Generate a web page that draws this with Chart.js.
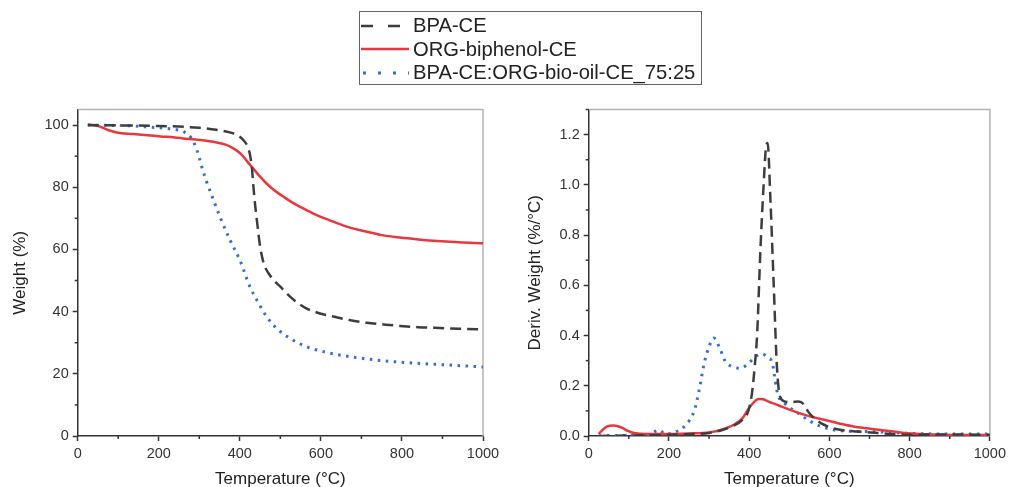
<!DOCTYPE html>
<html>
<head>
<meta charset="utf-8">
<script src="https://cdn.jsdelivr.net/npm/chart.js@4/dist/chart.umd.min.js"></script>
<style>
  html, body { margin: 0; padding: 0; background: #fff; }
  body { width: 1010px; height: 487px; position: relative; overflow: hidden; font-family: "Liberation Sans", Arial, sans-serif; }
  .panel { position: absolute; top: 95px; width: 505px; height: 392px; }
  #legend {
    position: absolute; left: 359px; top: 11px; width: 341px; height: 72px;
    border: 1px solid #666; background: #fff;
  }
  .item { position: absolute; left: 0; height: 24px; display: flex; align-items: center; }
  .item canvas { margin-left: 1px; }
  .item span { margin-left: 4px; font-size: 20.2px; color: #222; white-space: nowrap; }
</style>
</head>
<body>
<div id="legend"></div>
<div class="panel" style="left:0"><canvas id="tgaChart" width="505" height="392"></canvas></div>
<div class="panel" style="left:505px"><canvas id="dtgChart" width="505" height="392"></canvas></div>
<script>
// series names
const seriesNames = ['BPA-CE', 'ORG-biphenol-CE', 'BPA-CE:ORG-bio-oil-CE_75:25'];

// TGA: weight (%) vs temperature (°C)
const bpaTgaTemp = [25, 100, 200, 250, 300, 335, 360, 384, 400, 413, 420, 425, 430, 433, 438, 442, 446, 450, 456, 462, 470, 483, 500, 524, 545, 565, 598, 631, 670, 713, 760, 795, 840, 877, 940, 1000];
const bpaTgaWeight = [100, 99.9, 99.7, 99.5, 99.1, 98.6, 98.1, 97.3, 96.2, 94.5, 92.8, 90.5, 86, 81, 74, 69.5, 65, 61, 57, 54.4, 52.5, 50.2, 48, 44.8, 42.6, 41, 39.4, 38.4, 37.3, 36.4, 35.8, 35.4, 35.0, 34.8, 34.5, 34.3];

const orgTgaTemp = [25, 40, 55, 75, 96, 137, 180, 220, 260, 302, 343, 365, 384, 400, 409, 420, 433, 450, 466, 485, 507, 528, 549, 570, 590, 631, 670, 713, 750, 795, 840, 877, 940, 1000];
const orgTgaWeight = [100, 99.9, 99.5, 98.4, 97.6, 97.1, 96.6, 96.2, 95.7, 95.2, 94.4, 93.7, 92.5, 91, 89.8, 88, 86, 83.4, 81.2, 79, 77, 75.2, 73.7, 72.3, 71, 68.9, 67.1, 65.7, 64.6, 63.8, 63.2, 62.8, 62.3, 62];

const blendTgaTemp = [25, 80, 137, 180, 220, 245, 261, 272, 281, 288, 294, 300, 306, 318, 335, 351, 376, 400, 425, 442, 466, 491, 524, 565, 614, 672, 754, 836, 919, 1000];
const blendTgaWeight = [100, 99.9, 99.7, 99.3, 98.9, 98.5, 97.9, 97, 95.7, 94, 92, 89.5, 86.6, 81.8, 75.9, 70.5, 63, 56.6, 48, 43.7, 38.4, 34.6, 31.4, 28.7, 26.9, 25.5, 24.2, 23.4, 22.8, 22.2];

// DTG: derivative weight (%/°C) vs temperature (°C)
const bpaDtgTemp = [25, 100, 200, 260, 300, 333, 360, 383, 398, 407, 414, 420, 428, 436, 442, 446, 453, 461, 469, 477, 490, 505, 523, 537, 547, 563, 580, 605, 630, 670, 712, 795, 880, 1000];
const bpaDtgDeriv = [0.0, 0.002, 0.005, 0.008, 0.012, 0.024, 0.04, 0.064, 0.1, 0.17, 0.28, 0.41, 0.74, 1.0, 1.15, 1.167, 0.94, 0.61, 0.28, 0.157, 0.137, 0.135, 0.137, 0.125, 0.097, 0.07, 0.05, 0.033, 0.024, 0.018, 0.013, 0.005, 0.006, 0.005];

const orgDtgTemp = [25, 35, 45, 61, 75, 86, 98, 110, 130, 152, 200, 250, 300, 341, 365, 383, 399, 412, 424, 435, 448, 465, 481, 514, 547, 597, 630, 663, 712, 760, 795, 877, 1000];
const orgDtgDeriv = [0.008, 0.025, 0.037, 0.042, 0.038, 0.03, 0.02, 0.013, 0.009, 0.008, 0.008, 0.01, 0.014, 0.03, 0.048, 0.07, 0.11, 0.135, 0.147, 0.146, 0.137, 0.127, 0.117, 0.097, 0.08, 0.061, 0.048, 0.037, 0.027, 0.018, 0.011, 0.005, 0.004];

const blendDtgTemp = [25, 100, 150, 176, 190, 218, 242, 263, 275, 288, 300, 312, 325, 341, 358, 378, 399, 416, 432, 448, 458, 463, 468, 473, 485, 498, 523, 547, 580, 630, 712, 795, 877, 1000];
const blendDtgDeriv = [0.0, 0.002, 0.006, 0.024, 0.008, 0.017, 0.044, 0.10, 0.18, 0.29, 0.356, 0.39, 0.356, 0.296, 0.276, 0.27, 0.29, 0.316, 0.327, 0.31, 0.29, 0.24, 0.19, 0.157, 0.135, 0.117, 0.09, 0.064, 0.037, 0.021, 0.017, 0.011, 0.008, 0.008];

// axis ticks
const tempTicks = [0, 200, 400, 600, 800, 1000];
const weightTicks = [0, 20, 40, 60, 80, 100];
const derivTicks = [0, 0.2, 0.4, 0.6, 0.8, 1.0, 1.2];

const FONT = '"Liberation Sans", Arial, sans-serif';
const AXIS = '#333';
const styles = [
  { color: '#3d3d3d', width: 2.5, dash: [11, 6], legendDash: [12, 15] },
  { color: '#e8383d', width: 2.5, dash: [], legendDash: [] },
  { color: '#2f6fd6', width: 3, dash: [2.5, 5.5], legendDash: [3, 12] }
];

function pairs(xs, ys) {
  return xs.map((x, i) => ({ x: x, y: ys[i] }));
}

function makeDatasets(series) {
  return series.map((s, i) => ({
    label: seriesNames[i],
    data: pairs(s[0], s[1]),
    borderColor: styles[i].color,
    borderWidth: styles[i].width,
    borderDash: styles[i].dash,
    pointRadius: 0,
    fill: false,
    cubicInterpolationMode: 'monotone'
  }));
}

// small outward minor ticks between the labelled ones
const minorTicks = {
  id: 'minorTicks',
  afterDraw(chart, args, opts) {
    const ctx = chart.ctx;
    ctx.save();
    ctx.strokeStyle = AXIS;
    ctx.lineWidth = 1.5;
    ['x', 'y'].forEach(id => {
      const sc = chart.scales[id];
      const step = opts[id];
      for (let v = sc.min + step; v < sc.max; v += step * 2) {
        const p = sc.getPixelForValue(v);
        ctx.beginPath();
        if (id === 'x') {
          ctx.moveTo(p, sc.top); ctx.lineTo(p, sc.top + 3);
        } else {
          ctx.moveTo(sc.right, p); ctx.lineTo(sc.right - 3, p);
        }
        ctx.stroke();
      }
    });
    ctx.restore();
  }
};

// light frame along the top and right of the plot area
const frame = {
  id: 'frame',
  beforeDatasetsDraw(chart) {
    const { ctx, chartArea: a } = chart;
    ctx.save();
    ctx.strokeStyle = '#b4b4b4';
    ctx.lineWidth = 1.5;
    ctx.beginPath();
    ctx.moveTo(a.left, a.top);
    ctx.lineTo(a.right, a.top);
    ctx.lineTo(a.right, a.bottom);
    ctx.stroke();
    ctx.restore();
  }
};

function makeChart(canvasId, series, yOpts) {
  return new Chart(document.getElementById(canvasId), {
    type: 'line',
    data: { datasets: makeDatasets(series) },
    options: {
      responsive: false,
      animation: false,
      devicePixelRatio: 1,
      layout: { padding: { top: 14.5, right: yOpts.padRight, left: 0, bottom: 0 } },
      plugins: {
        legend: { display: false },
        tooltip: { enabled: false },
        minorTicks: { x: 100, y: yOpts.minor }
      },
      scales: {
        x: {
          type: 'linear', min: 0, max: 1000,
          afterBuildTicks: s => { s.ticks = tempTicks.map(v => ({ value: v })); },
          afterFit: s => { s.height = 51; },
          ticks: { color: AXIS, padding: 4, font: { family: FONT, size: 14.5 }, maxRotation: 0, callback: v => String(v) },
          grid: { drawOnChartArea: false, tickLength: 5, tickColor: AXIS, tickWidth: 1.5 },
          border: { color: AXIS, width: 1.5 },
          title: { display: true, text: 'Temperature (°C)', color: '#222', padding: { top: 0, bottom: -3 }, font: { family: FONT, size: 17 } }
        },
        y: {
          type: 'linear', min: 0, max: yOpts.max,
          afterBuildTicks: s => { s.ticks = yOpts.ticks.map(v => ({ value: v })); },
          afterFit: s => { s.width = yOpts.width; },
          ticks: { color: AXIS, padding: 4, font: { family: FONT, size: 14.5 }, callback: yOpts.fmt },
          grid: { drawOnChartArea: false, tickLength: 5, tickColor: AXIS, tickWidth: 1.5 },
          border: { color: AXIS, width: 1.5 },
          title: { display: true, text: yOpts.title, color: '#222', padding: { top: yOpts.titlePad, bottom: 0 }, font: { family: FONT, size: 17 } }
        }
      }
    },
    plugins: [frame, minorTicks]
  });
}

makeChart('tgaChart', [
  [bpaTgaTemp, bpaTgaWeight],
  [orgTgaTemp, orgTgaWeight],
  [blendTgaTemp, blendTgaWeight]
], { max: 105, ticks: weightTicks, minor: 10, width: 77.7, padRight: 22, title: 'Weight (%)', titlePad: 10.5, fmt: v => String(v) });

makeChart('dtgChart', [
  [bpaDtgTemp, bpaDtgDeriv],
  [orgDtgTemp, orgDtgDeriv],
  [blendDtgTemp, blendDtgDeriv]
], { max: 1.3, ticks: derivTicks, minor: 0.1, width: 83.7, padRight: 17, title: 'Deriv. Weight (%/°C)', titlePad: 20, fmt: v => v.toFixed(1) });

// shared legend above both panels
const legend = document.getElementById('legend');
seriesNames.forEach((name, i) => {
  const row = document.createElement('div');
  row.className = 'item';
  row.style.top = (1.7 + i * 23.6) + 'px';
  const c = document.createElement('canvas');
  c.width = 48; c.height = 24;
  const g = c.getContext('2d');
  g.strokeStyle = styles[i].color;
  g.lineWidth = styles[i].width;
  g.setLineDash(styles[i].legendDash);
  g.beginPath();
  g.moveTo(i === 2 ? 2 : 0, 12);
  g.lineTo(48, 12);
  g.stroke();
  const t = document.createElement('span');
  t.textContent = name;
  row.appendChild(c);
  row.appendChild(t);
  legend.appendChild(row);
});
</script>
</body>
</html>
